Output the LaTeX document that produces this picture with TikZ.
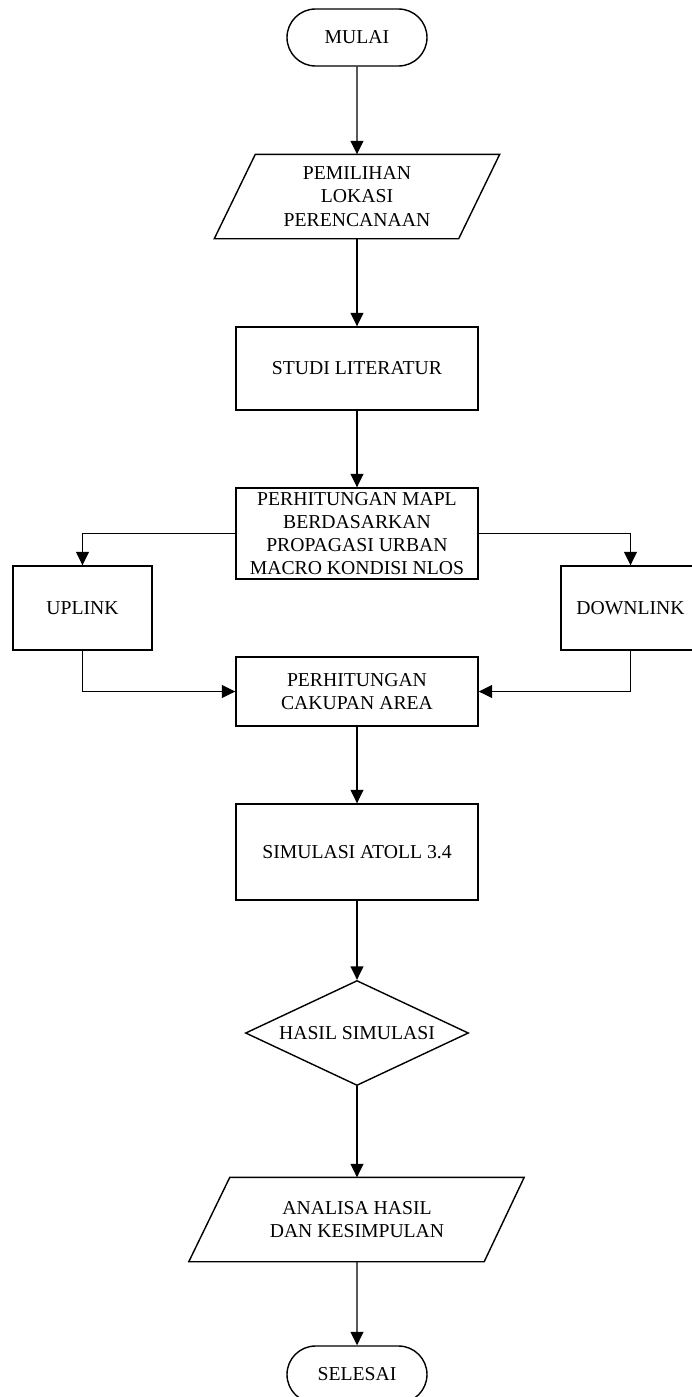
\documentclass[tikz,border=0pt]{standalone}
\usepackage{fontspec}
\setmainfont{Liberation Serif}
\usetikzlibrary{positioning,shapes.geometric,shapes.misc,arrows.meta}

\begin{document}
\begin{tikzpicture}[node distance=3.2cm, line width=0.8pt,
    every node/.style={font=\fontsize{11.2}{13.2}\selectfont, align=center},
    term/.style={draw, rounded rectangle, minimum width=2.8cm, minimum height=1.14cm, inner sep=0pt},
    io/.style={rectangle, minimum height=1.66cm, inner sep=0pt},
    proc/.style={draw, rectangle, minimum width=4.84cm, inner sep=0pt},
    dec/.style={draw, diamond, aspect=2.1, minimum width=4.46cm, minimum height=2.1cm, inner sep=0pt},
    arr/.style={-{Triangle[length=0.27cm,width=0.26cm]}}]
    \useasboundingbox (-7.14,0.75) rectangle (6.68,-27.19);

    \node (Mulai) [term] {MULAI};
    \node (Lokasi) [io, minimum width=4.04cm, below of=Mulai, node distance=3.18cm] {PEMILIHAN\\LOKASI\\PERENCANAAN};
    \node (Studi) [proc, minimum height=1.66cm, below of=Lokasi, node distance=3.44cm] {STUDI LITERATUR};
    \node (Mapl) [proc, minimum height=1.82cm, below of=Studi, node distance=3.3cm] {PERHITUNGAN MAPL\\BERDASARKAN\\PROPAGASI URBAN\\MACRO KONDISI NLOS};
    \node (Up) [proc, minimum width=2.78cm, minimum height=1.68cm, left of=Mapl, node distance=5.49cm, yshift=-1.49cm] {UPLINK};
    \node (Down) [proc, minimum width=2.78cm, minimum height=1.68cm, right of=Mapl, node distance=5.47cm, yshift=-1.49cm] {DOWNLINK};
    \node (Cakupan) [proc, minimum height=1.38cm, below of=Mapl, node distance=3.16cm] {PERHITUNGAN\\CAKUPAN AREA};
    \node (Sim) [proc, minimum height=1.92cm, below of=Cakupan, node distance=3.21cm] {SIMULASI ATOLL 3.4};
    \node (Hasil) [dec, below of=Sim, node distance=3.62cm] {HASIL SIMULASI};
    \node (Analisa) [io, minimum width=5.06cm, below of=Hasil, node distance=3.73cm] {ANALISA HASIL\\DAN KESIMPULAN};
    \node (Selesai) [term, below of=Analisa, node distance=3.1cm] {SELESAI};

    % parallelograms round the input/output nodes
    \draw ([xshift=-0.82cm]Lokasi.south west) -- (Lokasi.south east) -- ([xshift=0.82cm]Lokasi.north east) -- (Lokasi.north west) -- cycle;
    \draw ([xshift=-0.82cm]Analisa.south west) -- (Analisa.south east) -- ([xshift=0.8cm]Analisa.north east) -- (Analisa.north west) -- cycle;

    \draw[arr] (Mulai) -- (Lokasi);
    \draw[arr] (Lokasi) -- (Studi);
    \draw[arr] (Studi) -- (Mapl);
    \draw[arr] (Mapl.west) -| (Up.north);
    \draw[arr] (Mapl.east) -| (Down.north);
    \draw[arr] (Up.south) |- (Cakupan.west);
    \draw[arr] (Down.south) |- (Cakupan.east);
    \draw[arr] (Cakupan) -- (Sim);
    \draw[arr] (Sim) -- (Hasil);
    \draw[arr] (Hasil) -- (Analisa);
    \draw[arr] (Analisa) -- (Selesai);
  \end{tikzpicture}
\end{document}
